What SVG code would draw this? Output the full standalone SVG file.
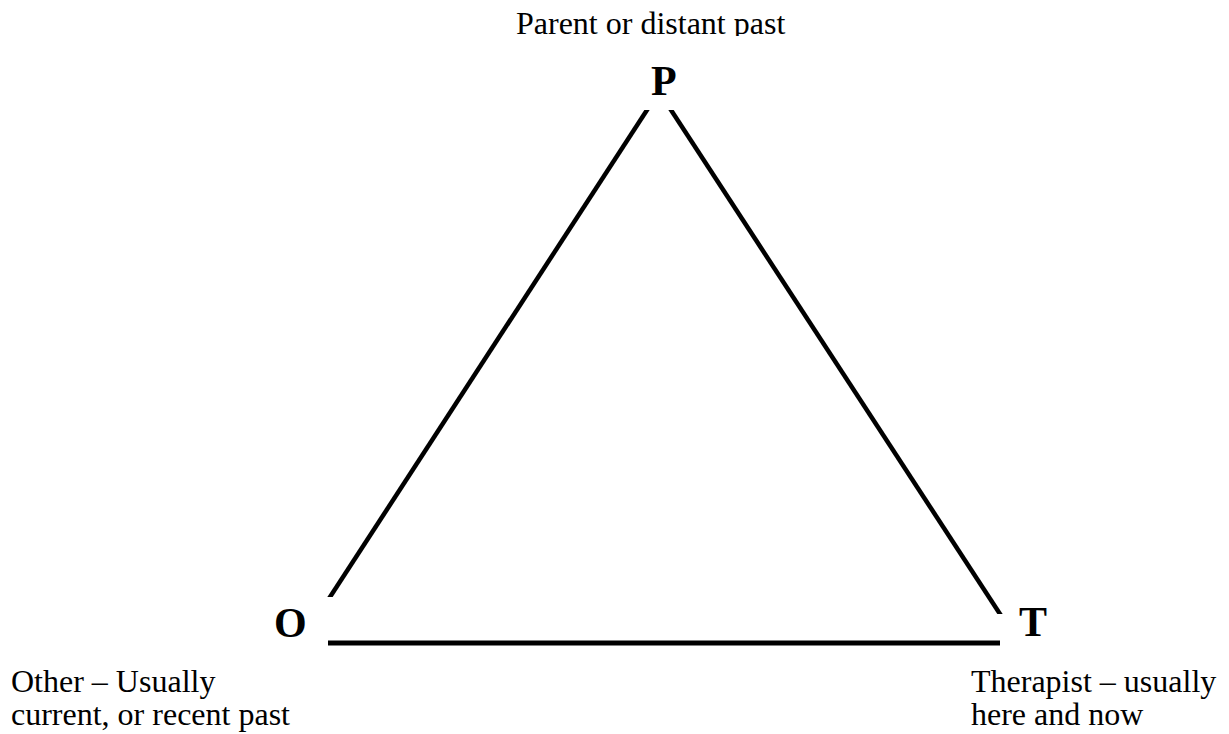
<svg xmlns="http://www.w3.org/2000/svg" width="1229" height="734" viewBox="0 0 1229 734">
  <style>
    .lbl { font-family: "Liberation Serif", "Times New Roman", serif; font-size: 32px; fill: #000; }
    .key { font-family: "Liberation Serif", "Times New Roman", serif; font-size: 42px; font-weight: bold; fill: #000; }
    .edge { stroke: #000; stroke-width: 4.5; fill: none; }
  </style>
  <defs>
    <clipPath id="clipTop"><rect x="0" y="0" width="1229" height="36"/></clipPath>
    <clipPath id="clipL"><rect x="300" y="110" width="400" height="487"/></clipPath>
    <clipPath id="clipR"><rect x="640" y="110" width="400" height="504"/></clipPath>
  </defs>
  <rect width="1229" height="734" fill="#fff"/>
  <g id="connectors">
    <line class="edge" x1="649.6" y1="106" x2="327.4" y2="601" clip-path="url(#clipL)"/>
    <line class="edge" x1="668.4" y1="106" x2="1002.6" y2="618" clip-path="url(#clipR)"/>
    <line x1="328" y1="643" x2="1000" y2="643" stroke="#000" stroke-width="5"/>
  </g>
  <g id="node-P">
    <text class="lbl" x="516" y="34" clip-path="url(#clipTop)">Parent or distant past</text>
    <text class="key" x="651" y="95">P</text>
  </g>
  <g id="node-O">
    <text class="key" x="274" y="637">O</text>
    <text class="lbl" x="11" y="692">Other – Usually</text>
    <text class="lbl" x="11" y="725">current, or recent past</text>
  </g>
  <g id="node-T">
    <text class="key" x="1019" y="636">T</text>
    <text class="lbl" x="971" y="692">Therapist – usually</text>
    <text class="lbl" x="971" y="725">here and now</text>
  </g>
</svg>
